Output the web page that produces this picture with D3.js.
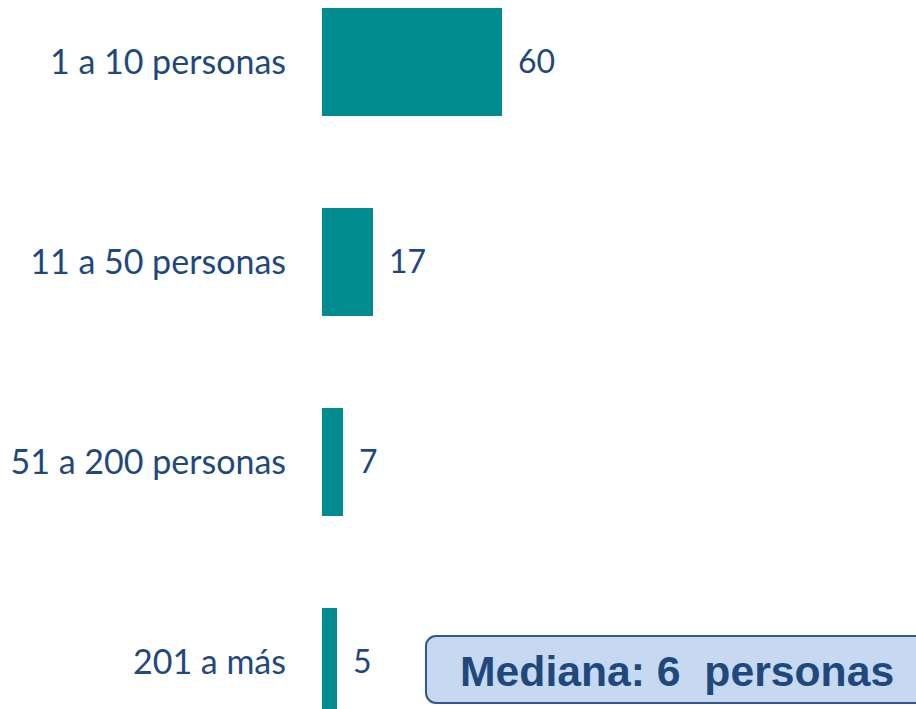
<!DOCTYPE html>
<html>
<head>
<meta charset="utf-8">
<script src="https://cdn.jsdelivr.net/npm/d3@7"></script>
<style>
  html, body { margin: 0; padding: 0; background: #fff; overflow: hidden; }
  #chart { width: 916px; height: 709px; }
</style>
</head>
<body>
<div id="chart"></div>
<script>
// chart data
const categories = ["1 a 10 personas", "11 a 50 personas", "51 a 200 personas", "201 a más"];
const values = [60, 17, 7, 5];
const medianText = "Mediana: 6  personas";

const width = 916;
const height = 709;

const svg = d3.select("#chart")
    .append("svg")
    .attr("width", width)
    .attr("height", height);

// scales
const x = d3.scaleLinear()
    .domain([0, 60])
    .range([322, 502]);

const y = d3.scaleBand()
    .domain(categories)
    .range([8, 716])
    .paddingInner(0.46)
    .paddingOuter(0);

const textColor = "#1f497d";
const barColor = "#008b8f";

// bars
svg.selectAll("rect.bar")
    .data(values)
    .join("rect")
    .attr("class", "bar")
    .attr("x", x(0))
    .attr("y", (d, i) => y(categories[i]))
    .attr("width", d => x(d) - x(0))
    .attr("height", y.bandwidth())
    .attr("fill", barColor);

// category labels
svg.selectAll("text.cat")
    .data(categories)
    .join("text")
    .attr("class", "cat")
    .attr("x", 286)
    .attr("y", d => y(d) + y.bandwidth() / 2)
    .attr("dy", "0.35em")
    .attr("text-anchor", "end")
    .attr("font-family", "Lato, 'Open Sans', sans-serif")
    .attr("font-size", 34)
    .attr("fill", textColor)
    .text(d => d);

// value labels
svg.selectAll("text.val")
    .data(values)
    .join("text")
    .attr("class", "val")
    .attr("x", d => x(d) + 16)
    .attr("y", (d, i) => y(categories[i]) + y.bandwidth() / 2)
    .attr("dy", "0.35em")
    .attr("font-family", "Lato, 'Open Sans', sans-serif")
    .attr("font-size", 32)
    .attr("fill", textColor)
    .text(d => d);

// median callout box
svg.append("rect")
    .attr("x", 426)
    .attr("y", 636)
    .attr("width", 520)
    .attr("height", 67)
    .attr("rx", 10)
    .attr("fill", "#c6d9f1")
    .attr("stroke", "#2c5a8e")
    .attr("stroke-width", 2);

svg.append("text")
    .attr("x", 460)
    .attr("y", 686)
    .attr("font-family", "'Liberation Sans', Arial, sans-serif")
    .attr("font-weight", "bold")
    .attr("font-size", 42.7)
    .attr("fill", "#1f497d")
    .style("white-space", "pre")
    .text(medianText);
</script>
</body>
</html>
